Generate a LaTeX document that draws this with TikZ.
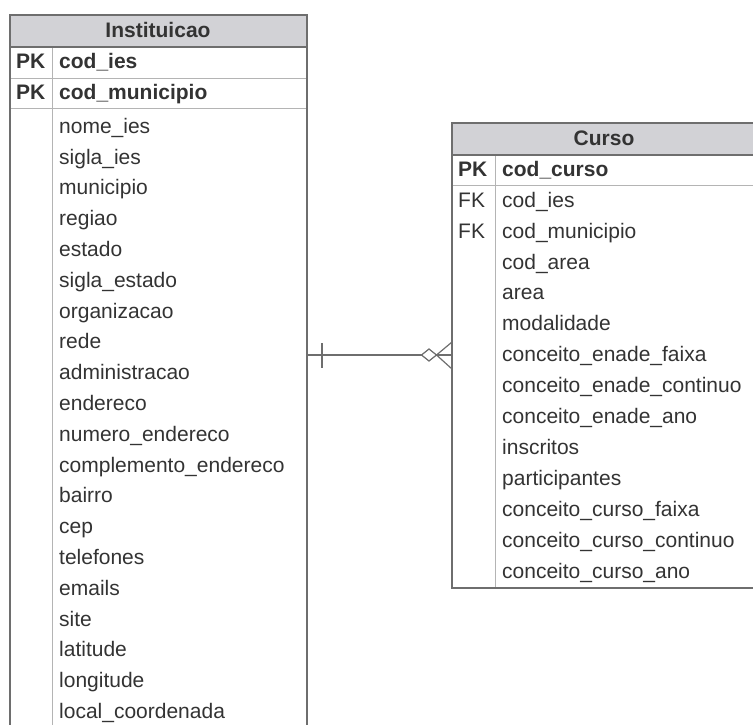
\documentclass[tikz,border=0pt]{standalone}
\usepackage{fontspec}
\setmainfont{Liberation Sans}
\definecolor{borda}{HTML}{6E6E6E}
\definecolor{linha}{HTML}{B4B4B4}
\definecolor{cabec}{HTML}{D2D2D6}
\definecolor{texto}{HTML}{333333}
\tikzset{
  campo/.style={anchor=west,inner sep=0pt,text height=15pt,text depth=4.5pt,
    text=texto,font=\fontsize{21}{24}\selectfont},
  chave/.style={campo,font=\fontsize{21}{24}\selectfont\bfseries},
  titulo/.style={inner sep=0pt,text height=15pt,text depth=4.5pt,text=texto,
    font=\fontsize{21}{24}\selectfont\bfseries},
}
\begin{document}
\begin{tikzpicture}[x=1pt,y=-1pt]
  \clip (0,0) rectangle (753,724);
  % Instituicao
  \def\ax{10} \def\bx{307} \def\ay{15} \def\by{740} \def\dx{52}
  \fill[cabec] (\ax,\ay) rectangle (\bx,47);
  \draw[linha,line width=1pt] (\ax,78)--(\bx,78) (\ax,108)--(\bx,108) (\dx,47)--(\dx,\by);
  \draw[borda,line width=1.2pt] (\ax,47)--(\bx,47);
  \draw[borda,line width=1.6pt] (\ax,\ay) rectangle (\bx,\by);
  \node[titulo] (inst) at (158,32) {Instituicao};
  \node[chave] (pk1) at (16,63) {PK};
  \node[chave] (ies) at (59,63) {cod\_ies};
  \node[chave] (pk2) at (16,94) {PK};
  \node[chave] (mun) at (59,94) {cod\_municipio};
  \foreach \t [count=\i from 0] in {nome\_ies,sigla\_ies,municipio,regiao,estado,
      sigla\_estado,organizacao,rede,administracao,endereco,numero\_endereco,
      complemento\_endereco,bairro,cep,telefones,emails,site,latitude,longitude,
      local\_coordenada}
    \node[campo] (i\i) at (59,128+30.8*\i) {\t};
  % Curso
  \def\cx{452} \def\ex{756} \def\cy{123} \def\ey{588} \def\fx{495}
  \fill[cabec] (\cx,\cy) rectangle (\ex,155);
  \draw[linha,line width=1pt] (\cx,185)--(\ex,185) (\fx,155)--(\fx,\ey);
  \draw[borda,line width=1.2pt] (\cx,155)--(\ex,155);
  \draw[borda,line width=1.6pt] (\cx,\cy) rectangle (\ex,\ey);
  \node[titulo] (curso) at (604,140) {Curso};
  \node[chave] (pk3) at (458,171) {PK};
  \node[chave] (cur) at (502,171) {cod\_curso};
  \node[campo] (fk1) at (458,202) {FK};
  \node[campo] (fk2) at (458,233) {FK};
  \foreach \t [count=\i from 0] in {cod\_ies,cod\_municipio,cod\_area,area,modalidade,
      conceito\_enade\_faixa,conceito\_enade\_continuo,conceito\_enade\_ano,inscritos,
      participantes,conceito\_curso\_faixa,conceito\_curso\_continuo,conceito\_curso\_ano}
    \node[campo] (c\i) at (502,202+30.9*\i) {\t};
  % relacionamento
  \coordinate (um) at (\bx,355);
  \coordinate (muitos) at (\cx,355);
  \draw[borda,line width=1.2pt] (um)--(muitos);
  \draw[borda,line width=1.2pt] (322,343)--(322,368);
  \draw[borda,line width=1.2pt,fill=white] (421.5,355)--(429,349)--(436.5,355)--(429,361)--cycle;
  \draw[borda,line width=1.2pt] (\cx,342)--(436.5,355)--(\cx,369);
\end{tikzpicture}
\end{document}
